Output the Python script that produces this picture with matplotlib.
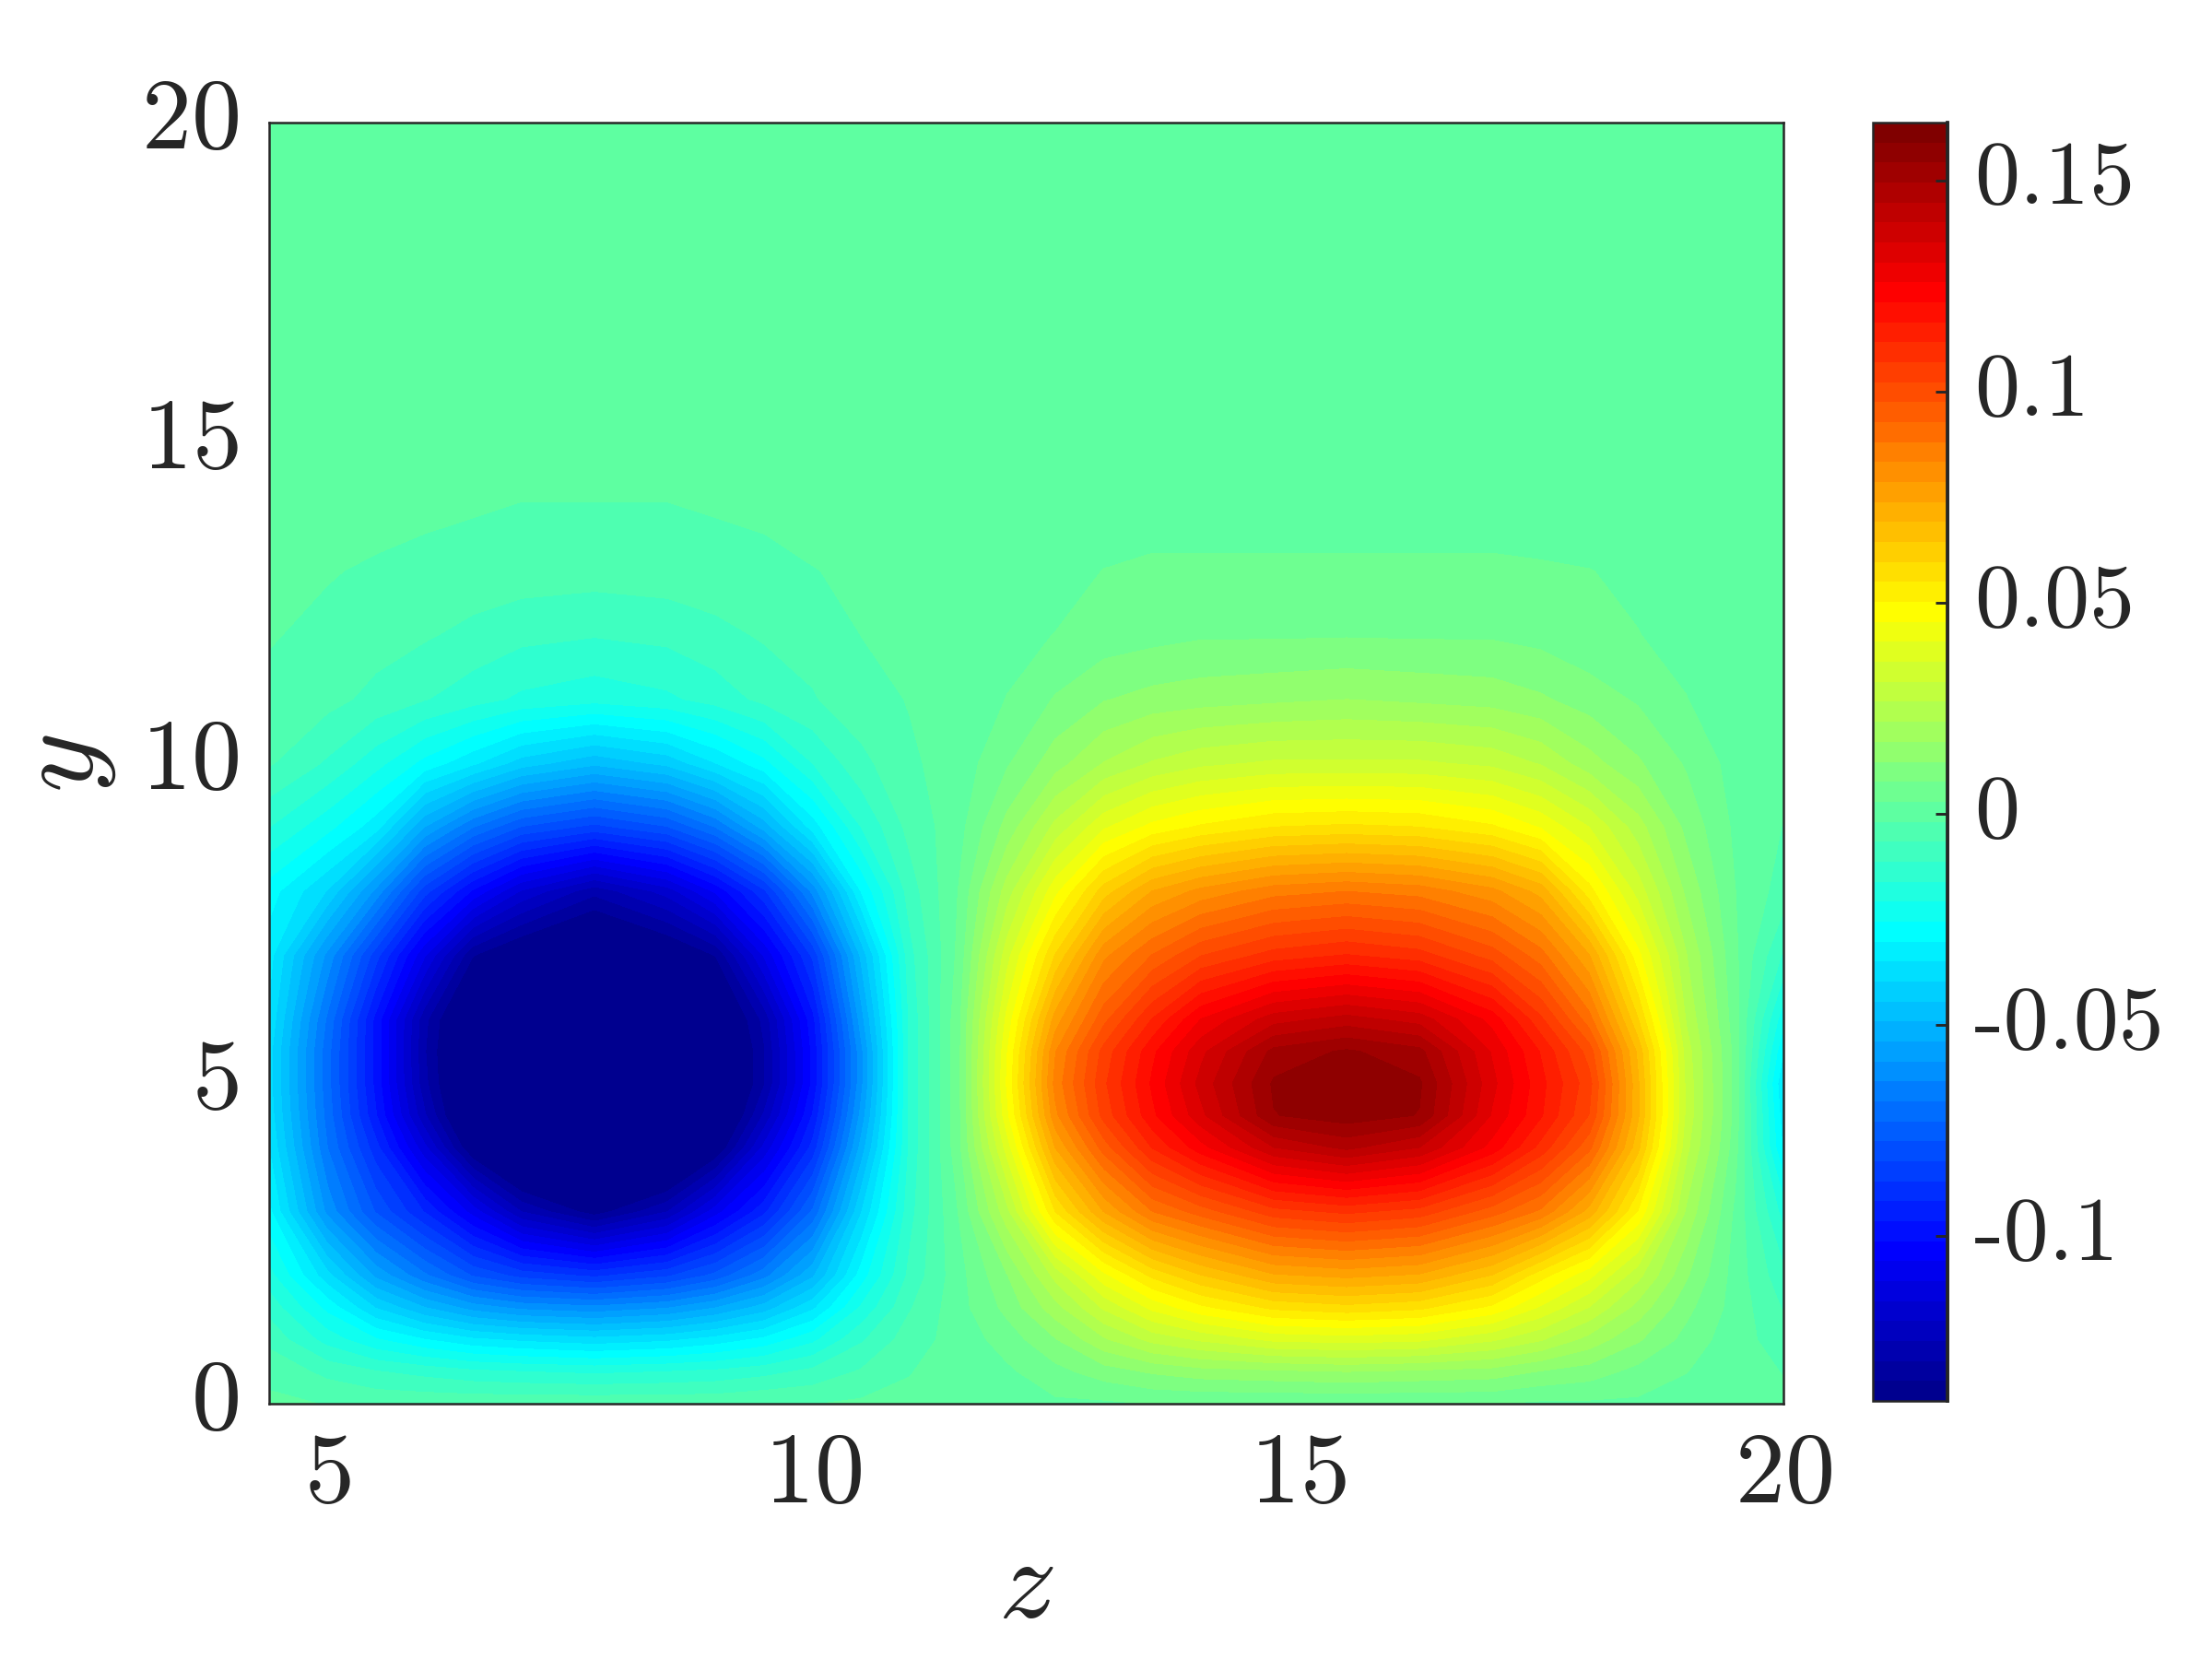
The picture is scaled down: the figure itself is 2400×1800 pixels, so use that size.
import numpy as np
import matplotlib
matplotlib.use("Agg")
import matplotlib.pyplot as plt
from matplotlib.cm import ScalarMappable
from matplotlib.colors import Normalize, ListedColormap, LinearSegmentedColormap
from matplotlib.transforms import ScaledTranslation

plt.rcParams['font.family'] = ['cmr10', 'DejaVu Sans']
plt.rcParams['mathtext.fontset'] = 'cm'
plt.rcParams['axes.unicode_minus'] = False
plt.rcParams['axes.formatter.use_mathtext'] = True

# values, in thousandths, rows go with y_nodes
z_nodes = [4.4, 5, 5.5, 6, 6.5, 7, 7.75, 8.5, 9, 9.5, 10, 10.5, 11, 11.5,
           12, 12.5, 13, 13.5, 14, 14.75, 15.5, 16.25, 17, 17.5, 18, 18.5, 19, 19.5, 20]
y_nodes = [0, 0.5, 1, 1.5, 2, 3, 4, 4.5, 5, 5.5, 6, 7, 8, 9, 10, 11, 12, 13, 14, 15, 20]
field_rows = [
    [-1, -2, -3, -3, -3, -3, -3, -3, -3, -2, -2, -1, -1, 0, 1, 2, 2, 3, 3, 3, 3, 3, 3, 2, 2, 2, 1, 0, -1],
    [-3, -8, -11, -13, -15, -16, -17, -16, -15, -13, -10, -6, -2, 0, 2, 6, 10, 13, 15, 16, 17, 16, 15, 12, 10, 6, 3, 0, -2],
    [-8, -18, -25, -30, -34, -36, -38, -36, -33, -29, -22, -12, -4, 0, 5, 12, 21, 28, 32, 37, 38, 37, 32, 27, 20, 13, 6, 0, -4],
    [-13, -27, -40, -49, -56, -60, -62, -59, -54, -47, -36, -20, -7, 1, 9, 20, 32, 42, 49, 56, 58, 56, 49, 40, 31, 20, 9, 1, -7],
    [-19, -38, -55, -67, -78, -84, -88, -83, -76, -65, -50, -28, -10, 1, 12, 28, 44, 56, 64, 73, 75, 73, 64, 52, 42, 28, 13, 1, -10],
    [-29, -60, -78, -92, -108, -125, -137, -125, -108, -93, -72, -40, -13, 3, 25, 55, 74, 88, 95, 105, 108, 105, 95, 87, 72, 50, 21, 2, -18],
    [-35, -68, -90, -114, -140, -155, -165, -155, -140, -114, -90, -52, -15, 6, 38, 74, 95, 112, 124, 140, 146, 140, 124, 110, 94, 66, 28, 5, -31],
    [-37, -70, -96, -124, -148, -160, -170, -162, -148, -124, -96, -57, -15, 6, 44, 82, 104, 120, 134, 154, 157, 154, 130, 117, 102, 70, 30, 6, -33],
    [-38, -71, -98, -128, -150, -163, -172, -165, -150, -130, -100, -60, -15, 6, 46, 85, 106, 122, 137, 155, 158, 155, 132, 118, 104, 70, 30, 6, -35],
    [-38, -71, -98, -129, -150, -163, -170, -164, -150, -130, -100, -60, -15, 6, 45, 83, 104, 120, 134, 151, 155, 151, 130, 116, 100, 68, 29, 6, -30],
    [-36, -69, -98, -128, -148, -158, -165, -158, -146, -128, -98, -56, -15, 6, 42, 76, 96, 112, 126, 138, 142, 138, 124, 108, 90, 60, 26, 5, -24],
    [-33, -60, -85, -110, -134, -142, -150, -142, -134, -110, -86, -48, -13, 4, 34, 60, 82, 93, 102, 109, 112, 109, 100, 90, 74, 47, 22, 4, -12],
    [-28, -40, -60, -85, -102, -116, -128, -118, -105, -88, -62, -30, -9, 3, 24, 44, 62, 74, 80, 86, 88, 86, 80, 72, 52, 34, 16, 3, -4],
    [-16, -24, -33, -54, -68, -78, -84, -78, -68, -52, -33, -16, -5, 1, 14, 28, 40, 47, 51, 55, 56, 55, 51, 45, 36, 24, 11, 2, -2],
    [-6, -12, -19, -27, -34, -42, -48, -43, -35, -27, -16, -8, -2.5, 0, 7, 15, 22, 27, 30, 32, 32, 32, 30, 26, 19, 13, 7, 1, -1],
    [-3, -5, -8, -11, -14, -17, -19, -17, -14, -10, -7, -3.5, -1.6, 0, 3, 8, 12, 14, 15, 16, 17, 16, 15, 13, 10, 7, 3, 0, 0],
    [-1.5, -3, -4.5, -6, -8, -10, -11, -10, -8, -6, -4.5, -1.8, -1, 0, 1.5, 3, 5, 6, 7, 7, 7.2, 7, 7, 6, 4, 3, 1.5, 0, 0],
    [0, -1.5, -2.5, -3, -3.5, -4, -4.5, -4, -3.5, -3, -2, -1, 0, 0, 0, 1, 3, 4, 4, 4, 4, 4, 4, 3.5, 3, 2, 0.5, 0, 0],
    [0, 0, 0, -1, -1.5, -2, -2, -2, -1.5, -1, 0, 0, 0, 0, 0, 0, 0, 0, 0, 0, 0, 0, 0, 0, 0, 0, 0, 0, 0],
    [0] * 29,
    [0] * 29,
]

color_min = -0.139
color_max = 0.1637
z_ticks = [5, 10, 15, 20]
y_ticks = [0, 5, 10, 15, 20]
bar_ticks = [-0.1, -0.05, 0, 0.05, 0.1, 0.15]
bar_labels = ['-0.1', '-0.05', '0', '0.05', '0.1', '0.15']

text_color = '#262626'
n_colors = 64

# MATLAB style jet, anchors differ from matplotlib's own jet
anchors = [(0, (0, 0, 0.5625)), (7 / 63, (0, 0, 1)), (23 / 63, (0, 1, 1)),
           (39 / 63, (1, 1, 0)), (55 / 63, (1, 0, 0)), (1, (0.5, 0, 0))]
cmap = ListedColormap(LinearSegmentedColormap.from_list('mjet', anchors)(np.linspace(0, 1, n_colors)))

field = np.array(field_rows) / 1000.0
norm = Normalize(color_min, color_max)
levels = np.linspace(color_min, color_max, n_colors + 1)

fig = plt.figure(figsize=(8, 6), dpi=300)
ax = fig.add_axes([292 / 2400, 1 - 1523 / 1800, (1935 - 292) / 2400, (1523 - 133) / 1800])
cax = fig.add_axes([2032 / 2400, 1 - 1520 / 1800, (2113 - 2032) / 2400, (1520 - 133) / 1800])

ax.contourf(z_nodes, y_nodes, field, levels=levels, cmap=cmap, norm=norm, extend='both')
ax.set_xlim(4.4, 20)
ax.set_ylim(0, 20)
ax.set_xticks(z_ticks)
ax.set_yticks(y_ticks)
ax.tick_params(length=0, labelsize=26, labelcolor=text_color)
ax.tick_params(axis='x', pad=7.5)
ax.tick_params(axis='y', pad=8)
ax.set_xlabel(r'$z$', fontsize=30, color=text_color, labelpad=4)
ax.set_ylabel(r'$y$', fontsize=30, color=text_color, labelpad=6)
for spine in ax.spines.values():
    spine.set_linewidth(0.6)
    spine.set_color(text_color)

# the digits sit a bit too low in this font, nudge them up
up = ScaledTranslation(0, 2.5 / 72, fig.dpi_scale_trans)
for label in ax.get_yticklabels():
    label.set_transform(label.get_transform() + up)

bar = fig.colorbar(ScalarMappable(norm=norm, cmap=cmap), cax=cax)
bar.set_ticks(bar_ticks, labels=bar_labels)
bar.minorticks_off()
cax.tick_params(direction='in', length=3.2, width=0.7, color=text_color, labelsize=23.5, labelcolor=text_color, pad=7)
up_bar = ScaledTranslation(0, 2 / 72, fig.dpi_scale_trans)
for label in cax.get_yticklabels():
    label.set_transform(label.get_transform() + up_bar)
bar.outline.set_linewidth(0.6)
bar.outline.set_edgecolor(text_color)
cax.plot([1, 1], [0, 1], transform=cax.transAxes, color=text_color, lw=0.9, clip_on=False)

fig.savefig('out.png', dpi=300)
